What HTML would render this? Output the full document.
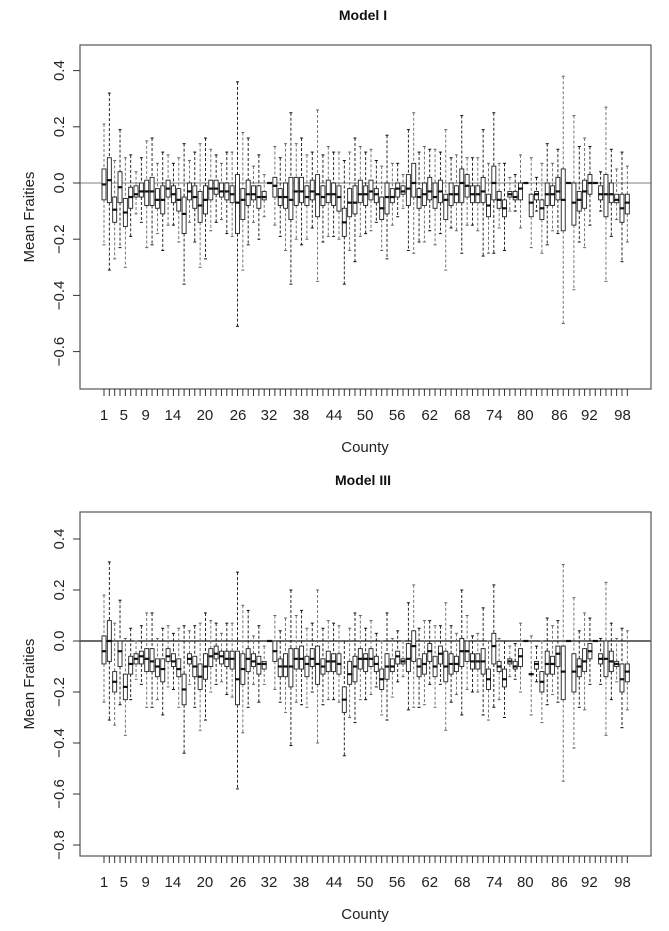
<!DOCTYPE html>
<html><head><meta charset="utf-8"><style>
html,body{margin:0;padding:0;background:#fff}
svg{display:block;font-family:"Liberation Sans",Arial,sans-serif}
</style></head><body>
<svg id="chart" width="669" height="931" viewBox="0 0 669 931" xmlns="http://www.w3.org/2000/svg"></svg>
<script>
// Model I (panel 1)
const p1Med=[-0.005,0.01,-0.095,-0.015,-0.105,-0.05,-0.04,-0.03,-0.03,-0.03,-0.06,-0.06,-0.02,-0.04,-0.06,-0.11,-0.03,-0.05,-0.08,-0.06,-0.02,-0.02,-0.03,-0.03,-0.04,-0.07,-0.06,-0.04,-0.04,-0.05,-0.05,0,-0.01,-0.05,-0.05,-0.06,-0.03,-0.03,-0.05,-0.03,-0.04,-0.05,-0.04,-0.04,-0.05,-0.14,-0.07,-0.07,-0.04,-0.04,-0.03,-0.04,-0.09,-0.05,-0.05,-0.02,-0.03,-0.02,0,-0.05,-0.04,-0.03,-0.05,-0.03,-0.06,-0.04,-0.04,0,-0.01,-0.04,-0.04,-0.03,-0.08,0,-0.06,-0.09,-0.04,-0.05,-0.02,0,-0.07,-0.04,-0.09,-0.04,-0.04,-0.03,-0.06,0,-0.07,-0.06,-0.03,0,0,-0.04,-0.04,-0.04,-0.06,-0.09,-0.07];
const p1Q3=[0.05,0.09,-0.05,0.04,-0.055,-0.015,-0.01,0,0.01,0.02,-0.02,-0.01,0.01,-0.01,-0.02,-0.05,0,-0.01,-0.03,-0.01,0.01,0.01,0,0,-0.01,0.03,-0.02,0.01,-0.01,-0.01,-0.03,0,0.02,-0.02,0,0.02,0.02,0.02,-0.01,0.01,0.03,-0.01,0.01,0,-0.01,-0.09,-0.02,-0.01,0.01,-0.01,0.01,-0.02,-0.05,0,-0.02,0,-0.01,0.03,0.07,-0.02,0,0.02,0,0.01,-0.04,0,-0.01,0.05,0.03,-0.01,-0.01,0.02,-0.04,0.06,-0.03,-0.06,-0.03,-0.03,0,0,-0.04,-0.03,-0.06,0,-0.01,0.02,0.05,0,0,-0.03,0.01,0.03,0,-0.01,0.03,0,-0.04,-0.04,-0.04];
const p1Q1=[-0.06,-0.07,-0.14,-0.07,-0.155,-0.09,-0.05,-0.05,-0.08,-0.08,-0.09,-0.11,-0.05,-0.07,-0.10,-0.18,-0.06,-0.09,-0.14,-0.11,-0.06,-0.04,-0.05,-0.06,-0.07,-0.18,-0.13,-0.08,-0.06,-0.09,-0.06,0,-0.05,-0.08,-0.09,-0.13,-0.08,-0.07,-0.08,-0.06,-0.12,-0.08,-0.07,-0.08,-0.10,-0.19,-0.12,-0.11,-0.07,-0.08,-0.06,-0.07,-0.13,-0.11,-0.07,-0.05,-0.04,-0.08,-0.05,-0.09,-0.08,-0.06,-0.09,-0.07,-0.13,-0.08,-0.07,-0.07,-0.05,-0.07,-0.07,-0.07,-0.12,-0.06,-0.09,-0.12,-0.05,-0.06,-0.06,0,-0.12,-0.06,-0.13,-0.08,-0.08,-0.06,-0.17,0,-0.15,-0.10,-0.09,-0.04,0,-0.06,-0.12,-0.07,-0.07,-0.14,-0.11];
const p1WHi=[0.21,0.32,0.08,0.19,0.09,0.10,0.04,0.09,0.15,0.16,0.07,0.11,0.10,0.07,0.09,0.14,0.08,0.11,0.14,0.16,0.12,0.10,0.07,0.11,0.11,0.36,0.18,0.16,0.06,0.10,0.03,0,0.13,0.09,0.14,0.25,0.14,0.16,0.10,0.11,0.26,0.10,0.13,0.11,0.11,0.08,0.11,0.16,0.13,0.11,0.12,0.08,0.06,0.17,0.07,0.07,0.03,0.19,0.25,0.11,0.13,0.12,0.12,0.11,0.19,0.09,0.10,0.24,0.09,0.09,0.09,0.19,0.07,0.25,0.07,0.07,0.02,0.03,0.10,0,0.09,0.02,0.07,0.14,0.07,0.12,0.38,0,0.24,0.13,0.16,0.13,0,0.04,0.27,0.12,0.05,0.11,0.06];
const p1WLo=[-0.22,-0.31,-0.27,-0.23,-0.30,-0.19,-0.11,-0.14,-0.23,-0.22,-0.18,-0.24,-0.15,-0.15,-0.21,-0.36,-0.14,-0.21,-0.30,-0.27,-0.17,-0.14,-0.13,-0.18,-0.19,-0.51,-0.31,-0.22,-0.14,-0.20,-0.12,0,-0.15,-0.19,-0.24,-0.36,-0.20,-0.22,-0.20,-0.16,-0.35,-0.21,-0.19,-0.19,-0.20,-0.36,-0.24,-0.28,-0.19,-0.18,-0.17,-0.14,-0.24,-0.27,-0.15,-0.12,-0.09,-0.24,-0.25,-0.21,-0.21,-0.17,-0.22,-0.18,-0.31,-0.16,-0.17,-0.25,-0.15,-0.15,-0.17,-0.26,-0.25,-0.25,-0.16,-0.24,-0.10,-0.10,-0.16,0,-0.23,-0.10,-0.25,-0.22,-0.17,-0.18,-0.50,0,-0.38,-0.21,-0.23,-0.15,0,-0.10,-0.35,-0.19,-0.13,-0.28,-0.21];
// Model III (panel 2)
const p2Med=[-0.04,0,-0.16,-0.04,-0.18,-0.09,-0.07,-0.06,-0.07,-0.08,-0.10,-0.11,-0.06,-0.08,-0.11,-0.19,-0.07,-0.10,-0.14,-0.10,-0.06,-0.05,-0.06,-0.07,-0.07,-0.15,-0.11,-0.07,-0.08,-0.09,-0.09,0,-0.04,-0.10,-0.10,-0.10,-0.07,-0.07,-0.09,-0.07,-0.09,-0.10,-0.08,-0.08,-0.09,-0.23,-0.13,-0.10,-0.07,-0.07,-0.07,-0.09,-0.15,-0.10,-0.10,-0.06,-0.08,-0.07,-0.02,-0.10,-0.09,-0.04,-0.10,-0.05,-0.10,-0.09,-0.09,-0.04,-0.04,-0.08,-0.08,-0.08,-0.15,-0.02,-0.10,-0.15,-0.08,-0.10,-0.06,0,-0.13,-0.09,-0.16,-0.09,-0.09,-0.05,-0.12,0,-0.12,-0.10,-0.08,-0.04,0,-0.07,-0.07,-0.08,-0.09,-0.15,-0.12];
const p2Q3=[0.02,0.08,-0.12,0,-0.13,-0.06,-0.05,-0.04,-0.03,-0.03,-0.07,-0.07,-0.03,-0.05,-0.07,-0.13,-0.05,-0.06,-0.09,-0.05,-0.03,-0.02,-0.04,-0.04,-0.04,-0.04,-0.05,-0.03,-0.05,-0.06,-0.08,0,0,-0.07,-0.05,-0.03,-0.03,-0.02,-0.06,-0.03,-0.02,-0.07,-0.04,-0.05,-0.05,-0.18,-0.08,-0.06,-0.03,-0.05,-0.03,-0.06,-0.11,-0.05,-0.07,-0.04,-0.07,-0.01,0.04,-0.07,-0.05,-0.01,-0.06,-0.02,-0.04,-0.05,-0.06,0.01,0,-0.05,-0.05,-0.03,-0.11,0.03,-0.08,-0.11,-0.07,-0.08,-0.03,0,-0.13,-0.08,-0.12,-0.04,-0.06,-0.02,-0.02,0,-0.05,-0.07,-0.03,-0.01,0,-0.05,0,-0.04,-0.08,-0.09,-0.09];
const p2Q1=[-0.09,-0.08,-0.20,-0.10,-0.23,-0.13,-0.09,-0.09,-0.12,-0.12,-0.14,-0.16,-0.08,-0.10,-0.14,-0.25,-0.09,-0.14,-0.19,-0.15,-0.10,-0.07,-0.09,-0.10,-0.11,-0.25,-0.17,-0.12,-0.10,-0.13,-0.11,0,-0.08,-0.14,-0.14,-0.18,-0.11,-0.11,-0.14,-0.10,-0.17,-0.13,-0.12,-0.12,-0.13,-0.28,-0.17,-0.16,-0.11,-0.12,-0.10,-0.12,-0.19,-0.15,-0.12,-0.09,-0.09,-0.12,-0.08,-0.14,-0.13,-0.08,-0.14,-0.09,-0.16,-0.13,-0.12,-0.10,-0.08,-0.11,-0.11,-0.13,-0.19,-0.09,-0.12,-0.18,-0.09,-0.11,-0.10,0,-0.13,-0.11,-0.20,-0.13,-0.13,-0.10,-0.23,0,-0.20,-0.14,-0.12,-0.07,0,-0.09,-0.14,-0.12,-0.10,-0.20,-0.16];
const p2WHi=[0.18,0.31,0.07,0.16,0.01,0.05,0,0.06,0.11,0.11,0.01,0.05,0.06,0.03,0.05,0.06,0.04,0.06,0.07,0.11,0.08,0.07,0.03,0.07,0.07,0.27,0.14,0.12,0.02,0.06,-0.02,0,0.10,0.04,0.09,0.20,0.10,0.12,0.05,0.07,0.20,0.05,0.08,0.07,0.06,0,0.05,0.11,0.10,0.05,0.08,0.03,0,0.11,0.01,0.04,0,0.15,0.22,0.05,0.08,0.08,0.06,0.06,0.15,0.06,0.03,0.20,0.10,0.02,0.03,0.13,0,0.22,0.01,0,-0.02,-0.01,0.07,0,0.02,-0.02,0,0.09,0.06,0.08,0.30,0,0.17,0.04,0.11,0.09,0,0.01,0.23,0.07,0.01,0.05,0.04];
const p2WLo=[-0.24,-0.31,-0.33,-0.25,-0.37,-0.23,-0.15,-0.17,-0.26,-0.26,-0.23,-0.29,-0.18,-0.19,-0.26,-0.44,-0.17,-0.26,-0.35,-0.31,-0.20,-0.17,-0.16,-0.21,-0.22,-0.58,-0.36,-0.26,-0.17,-0.24,-0.17,0,-0.19,-0.24,-0.28,-0.41,-0.24,-0.25,-0.26,-0.20,-0.40,-0.25,-0.23,-0.23,-0.24,-0.45,-0.30,-0.32,-0.23,-0.23,-0.21,-0.18,-0.29,-0.31,-0.22,-0.16,-0.14,-0.27,-0.26,-0.26,-0.25,-0.17,-0.26,-0.17,-0.35,-0.24,-0.21,-0.29,-0.19,-0.20,-0.20,-0.29,-0.31,-0.26,-0.23,-0.30,-0.14,-0.15,-0.20,0,-0.29,-0.16,-0.32,-0.25,-0.21,-0.24,-0.55,0,-0.42,-0.26,-0.27,-0.17,0,-0.17,-0.37,-0.23,-0.16,-0.34,-0.27];
const xLabels=["1","5","9","14","20","26","32","38","44","50","56","62","68","74","80","86","92","98"];
const xLabelPos=[1,4.7,8.8,13.9,19.9,26.1,31.9,37.9,44.1,49.9,55.9,62,68.1,74.1,79.9,86.3,91.9,98.1];
const p1YTicks=[0.4,0.2,0.0,-0.2,-0.4,-0.6];
const p2YTicks=[0.4,0.2,0.0,-0.2,-0.4,-0.6,-0.8];

const NS="http://www.w3.org/2000/svg";
const svg=document.getElementById('chart');
function mk(tag,attrs,parent){const e=document.createElementNS(NS,tag);for(const k in attrs)e.setAttribute(k,attrs[k]);(parent||svg).appendChild(e);return e;}
const fmt=v=>(v<0?"\u2212":"")+Math.abs(v).toFixed(1);

function panel(cfg){
  const g=mk('g',{});
  
  
  const xS=i=>104+(i-1)*5.34;
  const yS=v=>cfg.y0-v*cfg.k;
  const t=mk('text',{x:363,y:cfg.titleY,'text-anchor':'middle','font-size':14,'font-weight':'bold',fill:'#111'},g);
  t.textContent=cfg.title;
  
  
  // reference line
  const rl=mk('line',{x1:80,x2:651,y1:yS(0),y2:yS(0),stroke:cfg.refColor,'stroke-width':1.2},g);
  
  
  // boxes
  for(let i=0;i<cfg.med.length;i++){
    const x=xS(i+1);
    const bg=mk('g',{},g);
    
    
    const dark=(i%2===1)?'#111':'#666';
    mk('line',{x1:x,x2:x,y1:yS(cfg.whi[i]),y2:yS(cfg.q3[i]),stroke:dark,'stroke-width':0.9,'stroke-dasharray':'3,2'},bg);
    mk('line',{x1:x,x2:x,y1:yS(cfg.q1[i]),y2:yS(cfg.wlo[i]),stroke:dark,'stroke-width':0.9,'stroke-dasharray':'3,2'},bg);
    mk('line',{x1:x-1.5,x2:x+1.5,y1:yS(cfg.whi[i]),y2:yS(cfg.whi[i]),stroke:dark,'stroke-width':1},bg);
    mk('line',{x1:x-1.5,x2:x+1.5,y1:yS(cfg.wlo[i]),y2:yS(cfg.wlo[i]),stroke:dark,'stroke-width':1},bg);
    const top=yS(cfg.q3[i]),bot=yS(cfg.q1[i]);
    mk('rect',{x:x-2,y:top,width:4,height:Math.max(0.5,bot-top),fill:'#fff',stroke:'#222','stroke-width':0.9},bg);
    mk('line',{x1:x-2.5,x2:x+2.5,y1:yS(cfg.med[i]),y2:yS(cfg.med[i]),stroke:'#111','stroke-width':2.2},bg);
  }
  // frame
  const fr=mk('rect',{x:80,y:cfg.top,width:571,height:cfg.bottom-cfg.top,fill:'none',stroke:'#555','stroke-width':1.2},g);
  
  
  // y ticks
  cfg.yt.forEach(v=>{
    const y=yS(v);
    mk('line',{x1:73,x2:80,y1:y,y2:y,stroke:'#333','stroke-width':1},g);
    const tx=mk('text',{x:64,y:y,'font-size':15,'text-anchor':'middle',fill:'#222',transform:`rotate(-90 64 ${y})`},g);
    tx.textContent=fmt(v);
    
    
  });
  // x ticks
  for(let i=1;i<=cfg.med.length;i++){
    mk('line',{x1:xS(i),x2:xS(i),y1:cfg.bottom,y2:cfg.bottom+7,stroke:'#333','stroke-width':1},g);
  }
  xLabels.forEach((l,j)=>{
    const tx=mk('text',{x:xS(xLabelPos[j]),y:cfg.bottom+31,'font-size':15,'text-anchor':'middle',fill:'#222'},g);
    tx.textContent=l;
    
    
  });
  const xl=mk('text',{x:365,y:cfg.bottom+63,'font-size':15,'text-anchor':'middle',fill:'#222'},g);
  xl.textContent='County';
  
  
  const yc=(cfg.top+cfg.bottom)/2;
  const yl=mk('text',{x:34,y:yc,'font-size':15,'text-anchor':'middle',fill:'#222',transform:`rotate(-90 34 ${yc})`},g);
  yl.textContent='Mean Fraities';
  
  
}
panel({name:'model-i-panel',title:'Model I',titleY:20,top:45,bottom:389,y0:183,k:281,refColor:'#999',med:p1Med,q3:p1Q3,q1:p1Q1,whi:p1WHi,wlo:p1WLo,yt:p1YTicks});
panel({name:'model-iii-panel',title:'Model III',titleY:485,top:512,bottom:856,y0:641,k:255,refColor:'#111',med:p2Med,q3:p2Q3,q1:p2Q1,whi:p2WHi,wlo:p2WLo,yt:p2YTicks});
</script>
</body></html>
